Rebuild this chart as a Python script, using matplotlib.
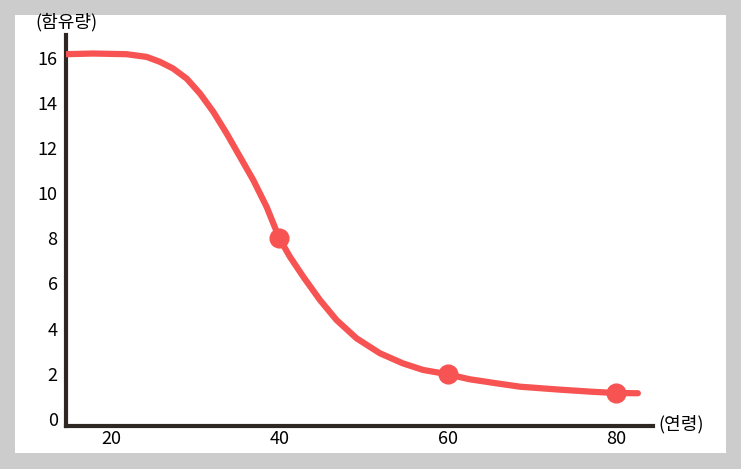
import matplotlib
matplotlib.use('Agg')
import matplotlib.pyplot as plt
from matplotlib.patches import Rectangle

plt.rcParams['font.family'] = ['Noto Sans CJK KR', 'DejaVu Sans']

# 연령 / 함유량 curve
age = [14.65, 17.86, 21.86, 24.24, 25.82, 27.36, 28.99, 30.57, 32.15, 33.74,
       35.32, 36.9, 38.49, 40.0, 41.26, 42.84, 44.82, 46.8, 49.18, 51.95,
       54.7, 57.1, 59.87, 62.6, 65.8, 68.6, 73.3, 77.0, 80.0, 82.6]
level = [16.15, 16.18, 16.15, 16.03, 15.81, 15.52, 15.07, 14.41, 13.6, 12.64,
         11.61, 10.58, 9.39, 8.0, 7.18, 6.3, 5.27, 4.38, 3.57, 2.91,
         2.46, 2.17, 1.99, 1.76, 1.58, 1.43, 1.3, 1.21, 1.15, 1.14]
pt_age = [40, 60, 80]
pt_level = [8, 2, 1.15]
xticks = [20, 40, 60, 80]
yticks = [0, 2, 4, 6, 8, 10, 12, 14, 16]

red = '#f75352'
dark = '#2e2723'

fig = plt.figure(figsize=(7.41, 4.69), dpi=100)
fig.patch.set_facecolor('#cccccc')
bg = Rectangle((15/741, 1-453/469), 711/741, 438/469,
               transform=fig.transFigure, facecolor='white',
               edgecolor='none', zorder=-10)
fig.add_artist(bg)

ax = fig.add_axes([66/741, 1-426/469, 587/741, 391/469])
ax.set_facecolor('none')
ax.plot(age, level, color=red, lw=4.5, solid_capstyle='round',
        solid_joinstyle='round', zorder=3)
ax.plot(pt_age, pt_level, 'o', color=red, ms=13.5, zorder=4, clip_on=False)

ax.set_xlim(14.65, 84.4)
ax.set_ylim(-0.31, 17.0)
ax.set_xticks(xticks)
ax.set_yticks(yticks)
ax.tick_params(length=0, labelsize=13, colors='black')
ax.tick_params(axis='x', pad=3)
ax.tick_params(axis='y', pad=6)

for s in ['top', 'right']:
    ax.spines[s].set_visible(False)
for s in ['left', 'bottom']:
    ax.spines[s].set_color(dark)
    ax.spines[s].set_linewidth(3)

ax.annotate('(함유량)', xy=(0, 1), xycoords='axes fraction', xytext=(0, 9.5),
            textcoords='offset points', ha='center', va='center', fontsize=13)
ax.annotate('(연령)', xy=(1, 0), xycoords='axes fraction', xytext=(4, 1),
            textcoords='offset points', ha='left', va='center', fontsize=13)

fig.savefig('out.png', dpi=100, facecolor=fig.get_facecolor())
